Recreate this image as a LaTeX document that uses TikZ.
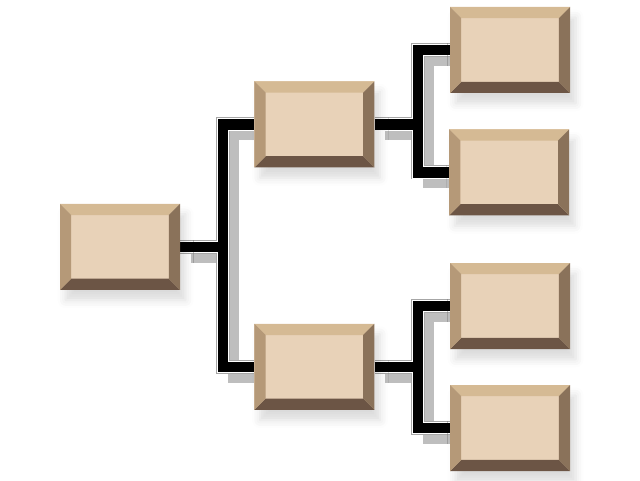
\documentclass[tikz,border=0pt]{standalone}
\usetikzlibrary{backgrounds,shadows.blur}

\definecolor{boxface}{RGB}{232,210,184}
\definecolor{bevtop}{RGB}{213,186,148}
\definecolor{bevleft}{RGB}{181,153,120}
\definecolor{bevright}{RGB}{138,114,90}
\definecolor{bevbottom}{RGB}{108,85,69}
\definecolor{wireshade}{RGB}{190,190,190}
\newcommand{\bevw}{0.28cm}

\begin{document}
\begin{tikzpicture}[
    bevelbox/.style={rectangle, inner sep=0pt, minimum width=3cm, minimum height=2.15cm, fill=boxface,
      blur shadow={shadow xshift=0.14cm, shadow yshift=-0.26cm, shadow opacity=14, shadow blur radius=0.2cm},
      path picture={
        \fill[bevtop] (path picture bounding box.north west) -- (path picture bounding box.north east)
          -- ([shift={(-\bevw,-\bevw)}]path picture bounding box.north east)
          -- ([shift={(\bevw,-\bevw)}]path picture bounding box.north west) -- cycle;
        \fill[bevbottom] (path picture bounding box.south west) -- (path picture bounding box.south east)
          -- ([shift={(-\bevw,\bevw)}]path picture bounding box.south east)
          -- ([shift={(\bevw,\bevw)}]path picture bounding box.south west) -- cycle;
        \fill[bevleft] (path picture bounding box.north west) -- (path picture bounding box.south west)
          -- ([shift={(\bevw,\bevw)}]path picture bounding box.south west)
          -- ([shift={(\bevw,-\bevw)}]path picture bounding box.north west) -- cycle;
        \fill[bevright] (path picture bounding box.north east) -- (path picture bounding box.south east)
          -- ([shift={(-\bevw,\bevw)}]path picture bounding box.south east)
          -- ([shift={(-\bevw,-\bevw)}]path picture bounding box.north east) -- cycle;
      }},
    wire/.style={draw=gray!70, line width=0.35cm,
      preaction={draw=wireshade, line width=0.27cm, transform canvas={shift={(0.27cm,-0.26cm)}}},
      postaction={draw=white, line width=0.31cm},
      postaction={draw=black, line width=0.26cm}}
  ]
  \useasboundingbox (0,0) rectangle (16,12);

  \node[bevelbox] (root) at (3.0,5.83) {};
  \node[bevelbox] (mt) at (7.86,8.89) {};
  \node[bevelbox] (mb) at (7.86,2.83) {};
  \node[bevelbox] (r1) at (12.75,10.75) {};
  \node[bevelbox] (r2) at (12.73,7.69) {};
  \node[bevelbox] (r3) at (12.75,4.35) {};
  \node[bevelbox] (r4) at (12.75,1.3) {};

  % junctions
  \coordinate (ja) at (5.57,5.83);
  \coordinate (jb) at (10.45,8.89);
  \coordinate (jc) at (10.45,2.83);

  \begin{scope}[on background layer]
    \draw[wire] (mt.west) -| (ja) |- (mb.west) (root.east) -- (ja);
    \draw[wire] (r1.west) -| (jb) |- (r2.west) (mt.east) -- (jb);
    \draw[wire] (r3.west) -| (jc) |- (r4.west) (mb.east) -- (jc);
  \end{scope}
\end{tikzpicture}
\end{document}
